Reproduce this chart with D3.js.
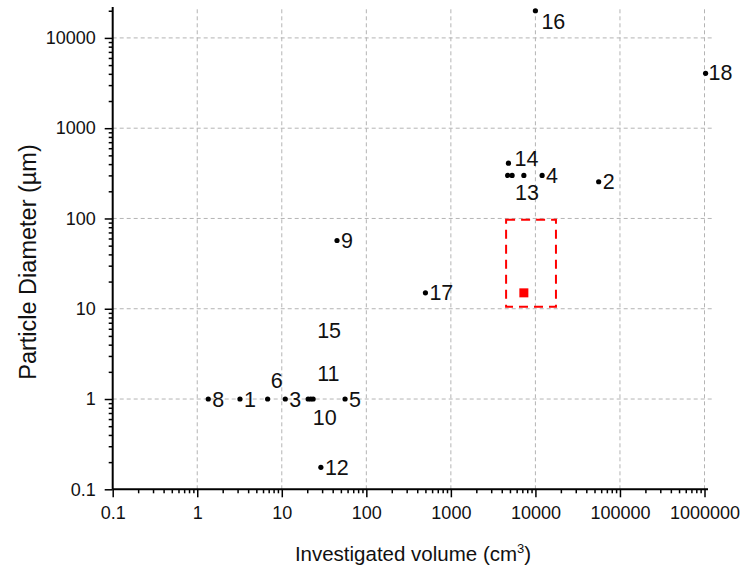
<!DOCTYPE html>
<html>
<head>
<meta charset="utf-8">
<script src="https://cdn.jsdelivr.net/npm/d3@7"></script>
<style>
  body { margin: 0; background: #fff; }
  svg { display: block; font-family: Arial, "Liberation Sans", sans-serif; }
</style>
</head>
<body>
<svg id="chart" width="745" height="569"></svg>
<script>
// ---------- data ----------
const pointLabels = ["8", "1", "6", "3", "15", "10", "11", "5", "12", "9", "17", "", "14", "13", "", "4", "2", "16", "18"];
const volumes     = [1.35, 3.2, 6.8, 11, 20.5, 22, 23.5, 56, 29, 45, 500, 4700, 4800, 5300, 7300, 12000, 56000, 10000, 1030000];
const diameters   = [1, 1, 1, 1, 1, 1, 1, 1, 0.175, 57, 15, 300, 410, 300, 300, 300, 255, 20000, 4050];

const highlightVolume = [7300];
const highlightDiameter = [15];
const boxVolume = [4500, 17500];
const boxDiameter = [10.5, 97];

const xTickValues = [0.1, 1, 10, 100, 1000, 10000, 100000, 1000000];
const yTickValues = [0.1, 1, 10, 100, 1000, 10000];
const xDomain = [0.1, 1.1e6];
const yDomain = [0.1, 22000];

// ---------- layout ----------
const svg = d3.select("#chart");
const x = d3.scaleLog().domain(xDomain).range([112.7, 708]);
const y = d3.scaleLog().domain(yDomain).range([489.3, 7]);
const fmt = d => String(d);

// minor tick values
function minors(domain) {
  const out = [];
  for (let e = Math.floor(Math.log10(domain[0])); e <= Math.ceil(Math.log10(domain[1])); e++) {
    for (let m = 2; m <= 9; m++) {
      const v = m * Math.pow(10, e);
      if (v > domain[0] && v < domain[1]) out.push(v);
    }
  }
  return out;
}

// grid
const grid = svg.append("g").attr("stroke", "#b4b4b4").attr("stroke-width", 1).attr("stroke-dasharray", "4,3");
grid.selectAll("line.v").data(xTickValues.slice(1)).join("line")
  .attr("x1", d => x(d)).attr("x2", d => x(d))
  .attr("y1", y(yDomain[0])).attr("y2", y(yDomain[1]));
grid.selectAll("line.h").data(yTickValues.slice(1)).join("line")
  .attr("y1", d => y(d)).attr("y2", d => y(d))
  .attr("x1", x(xDomain[0])).attr("x2", x(xDomain[1]) + 4);

// axes
const xMinor = svg.append("g").attr("transform", `translate(0,${y(yDomain[0])})`)
  .call(d3.axisBottom(x).tickValues(minors(xDomain)).tickSize(4).tickFormat(""));
const xAxis = svg.append("g").attr("transform", `translate(0,${y(yDomain[0])})`)
  .call(d3.axisBottom(x).tickValues(xTickValues).tickSize(8).tickPadding(9).tickFormat(fmt));
const yMinor = svg.append("g").attr("transform", `translate(${x(xDomain[0])},0)`)
  .call(d3.axisLeft(y).tickValues(minors(yDomain)).tickSize(4).tickFormat(""));
const yAxis = svg.append("g").attr("transform", `translate(${x(xDomain[0])},0)`)
  .call(d3.axisLeft(y).tickValues(yTickValues).tickSize(8).tickPadding(9).tickFormat(fmt));

[xMinor, xAxis, yMinor, yAxis].forEach(g => {
  g.select(".domain").attr("stroke", "#000").attr("stroke-width", 2);
  g.selectAll(".tick line").attr("stroke", "#000").attr("stroke-width", 1.5);
  g.selectAll("text").attr("font-size", 18).attr("fill", "#111")
    .attr("font-family", "Arial, 'Liberation Sans', sans-serif");
});
xMinor.select(".domain").remove();
yMinor.select(".domain").remove();
xAxis.select(".domain").attr("d", `M${x(xDomain[0])},0H${x(xDomain[1])}`);
yAxis.select(".domain").attr("d", `M0,${y(yDomain[0])}V${y(yDomain[1])}`);

// axis titles
svg.append("text")
  .attr("x", 413).attr("y", 561)
  .attr("text-anchor", "middle").attr("font-size", 20.5).attr("fill", "#111")
  .html('Investigated volume (cm<tspan dy="-8" font-size="13">3</tspan><tspan dy="8">)</tspan>');
svg.append("text")
  .attr("transform", "translate(36,262) rotate(-90)")
  .attr("text-anchor", "middle").attr("font-size", 23.5).attr("fill", "#111")
  .text("Particle Diameter (µm)");

// red dashed box and highlighted point
svg.append("rect")
  .attr("x", x(boxVolume[0])).attr("y", y(boxDiameter[1]))
  .attr("width", x(boxVolume[1]) - x(boxVolume[0]))
  .attr("height", y(boxDiameter[0]) - y(boxDiameter[1]))
  .attr("fill", "none").attr("stroke", "#ff0000").attr("stroke-width", 2)
  .attr("stroke-dasharray", "9,6");
svg.selectAll("rect.hl").data(highlightVolume).join("rect")
  .attr("x", (d, i) => x(d) - 4.5).attr("y", (d, i) => y(highlightDiameter[i]) - 4.5)
  .attr("width", 9).attr("height", 9).attr("fill", "#ff0000");

// points
const pts = pointLabels.map((l, i) => ({ label: l, v: volumes[i], d: diameters[i] }));
svg.append("g").selectAll("circle").data(pts).join("circle")
  .attr("cx", p => x(p.v)).attr("cy", p => y(p.d)).attr("r", 2.6).attr("fill", "#000");

// label placement (pixel offsets from the dot)
const placement = {
  "6": [3, -11], "15": [9, -61], "10": [2, 26], "11": [4, -18],
  "14": [6, 3], "13": [3, 25], "16": [6, 18], "18": [3, 7]
};
svg.append("g").selectAll("text").data(pts.filter(p => p.label)).join("text")
  .attr("x", p => x(p.v) + (placement[p.label] ? placement[p.label][0] : 4))
  .attr("y", p => y(p.d) + (placement[p.label] ? placement[p.label][1] : 7.5))
  .attr("font-size", 21.5).attr("fill", "#111")
  .text(p => p.label);
</script>
</body>
</html>
